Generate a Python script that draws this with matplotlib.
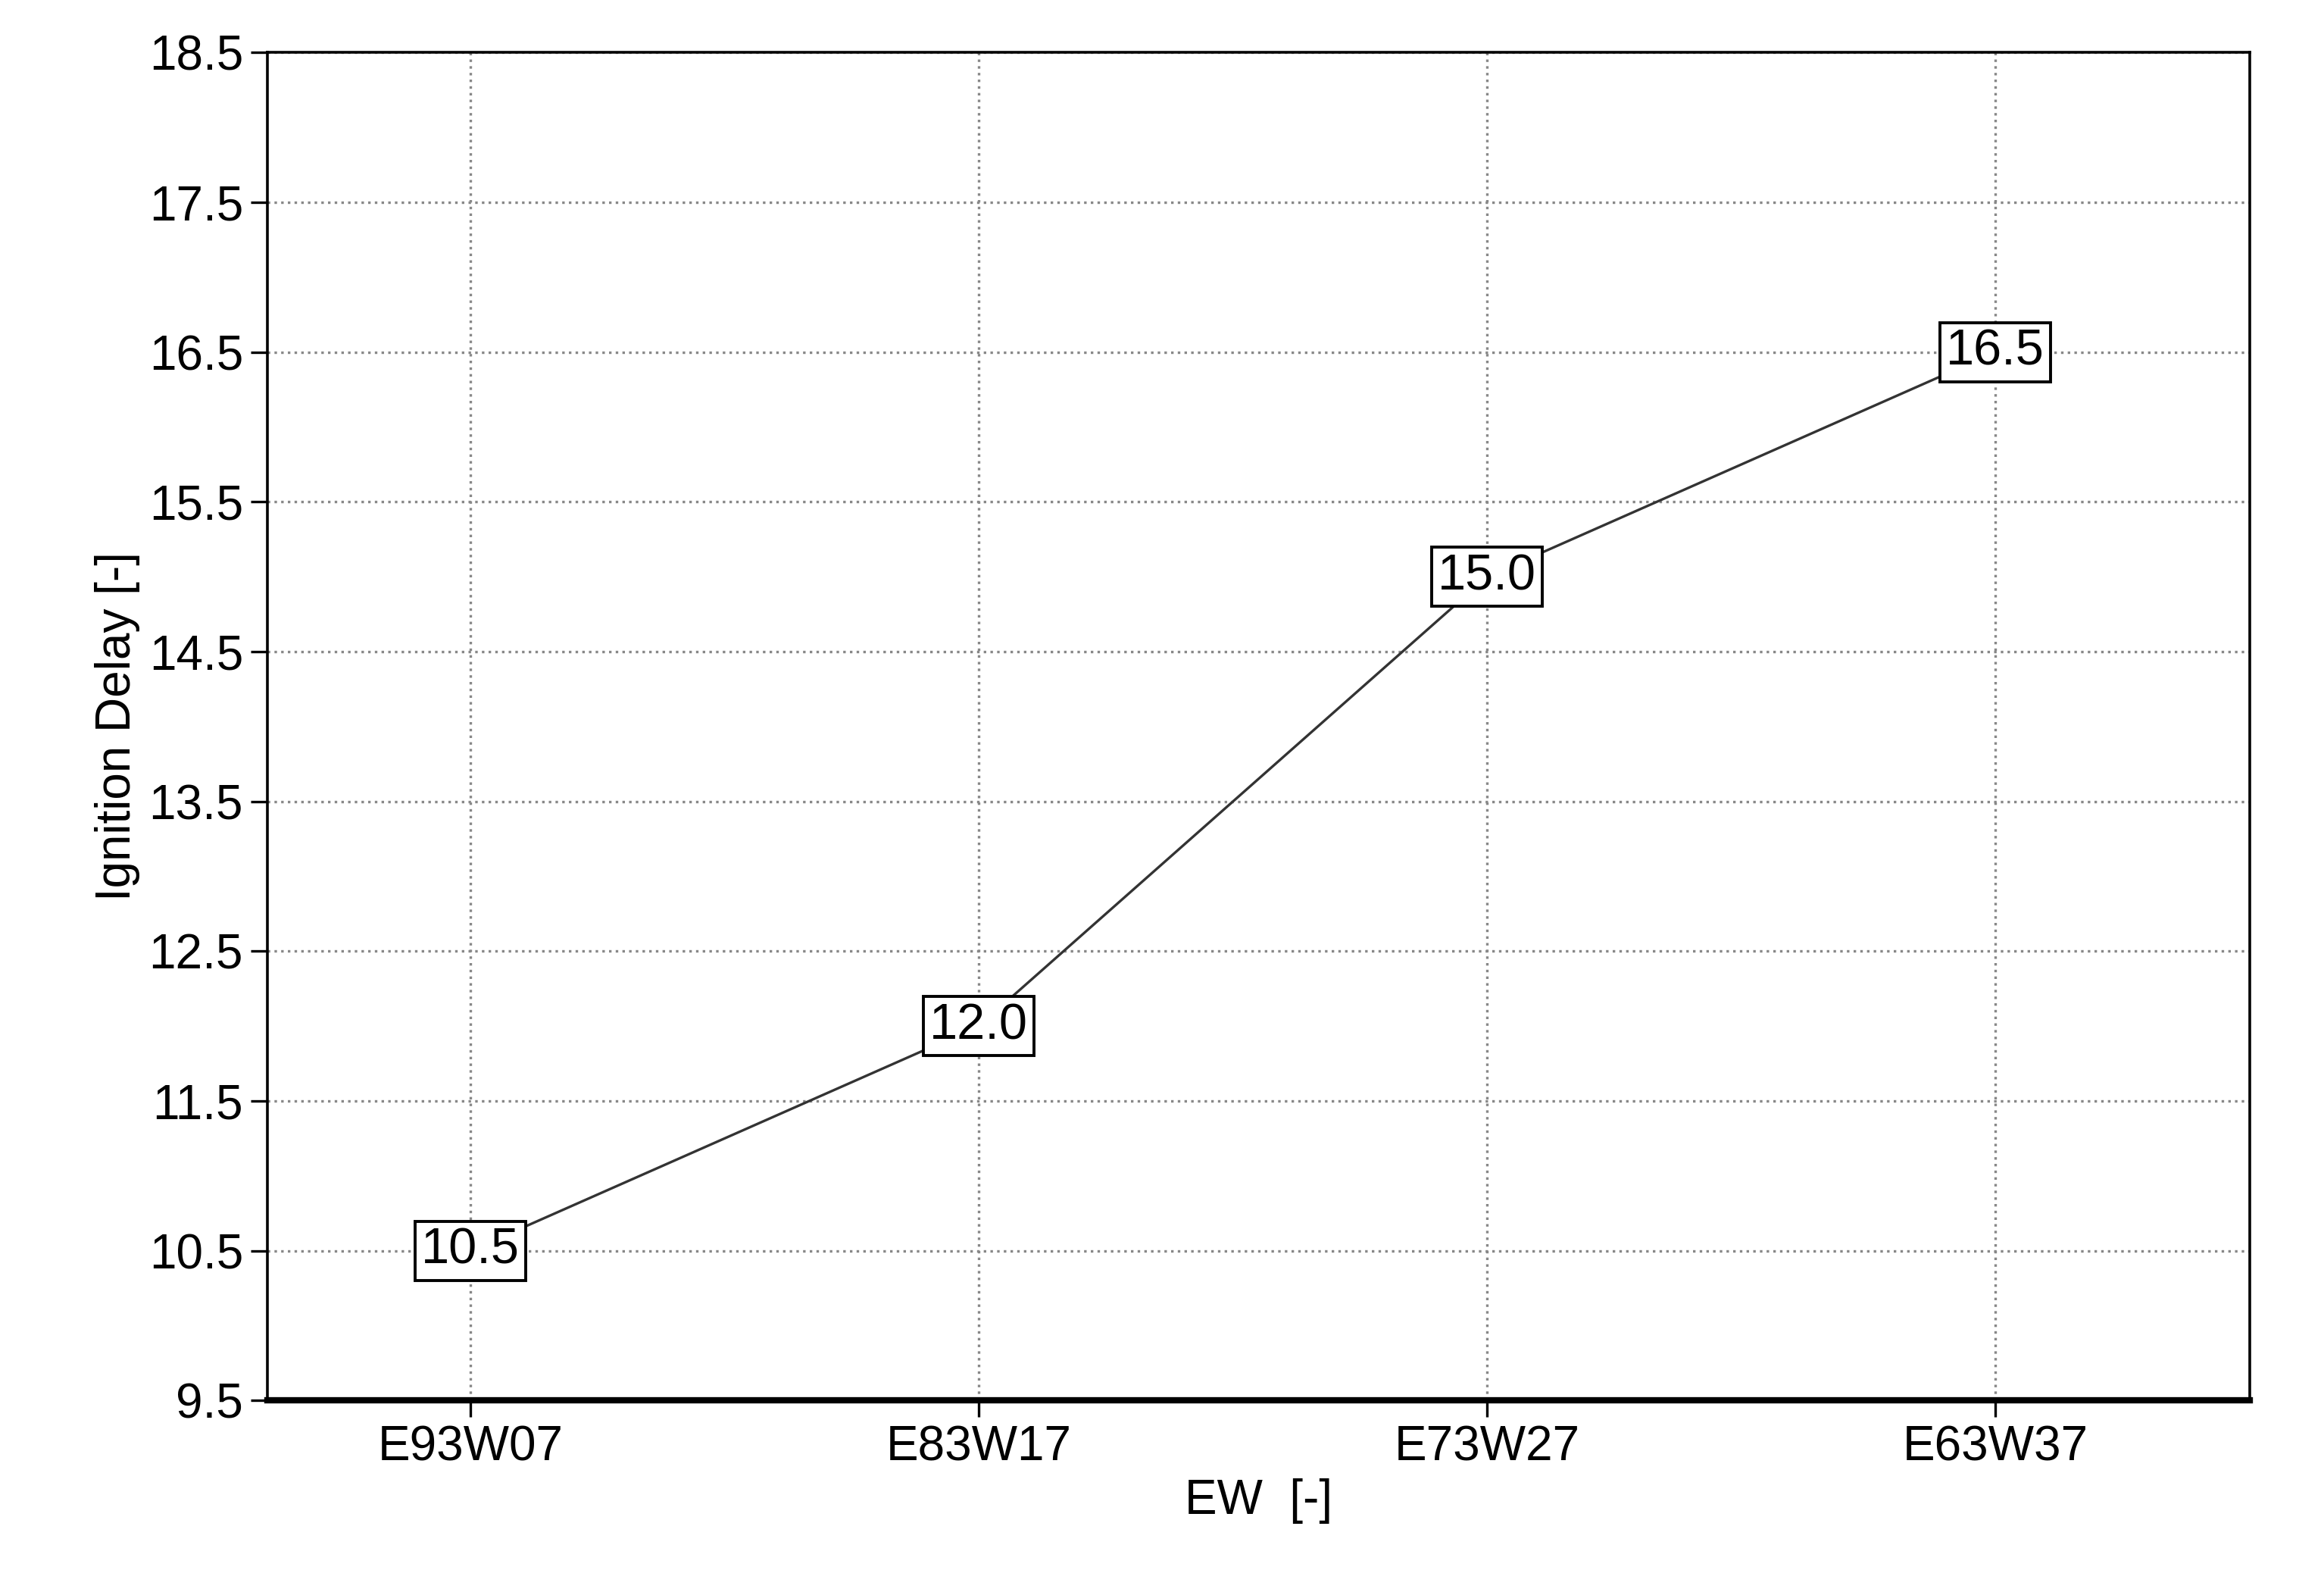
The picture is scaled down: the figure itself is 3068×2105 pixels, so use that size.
import matplotlib
matplotlib.use("Agg")
import matplotlib.pyplot as plt

categories = ["E93W07", "E83W17", "E73W27", "E63W37"]
values = [10.5, 12.0, 15.0, 16.5]
yticks = [9.5, 10.5, 11.5, 12.5, 13.5, 14.5, 15.5, 16.5, 17.5, 18.5]

plt.rcParams['font.family'] = ['Liberation Sans', 'DejaVu Sans']
fig = plt.figure(figsize=(15.34, 10.525), dpi=200)
ax = fig.add_axes([0.115, 0.122, 0.853, 0.845])
x = list(range(len(categories)))
ax.plot(x, values, color="#333333", lw=1.2, zorder=2)
for xi, v in zip(x, values):
    ax.text(xi, v, f"{v:.1f}", ha="center", va="center", fontsize=24, zorder=3,
            bbox=dict(boxstyle="square,pad=0.12", fc="white", ec="black", lw=1.4))
ax.set_xlim(-0.4, 3.5)
ax.set_ylim(9.5, 18.5)
ax.set_yticks(yticks)
ax.set_yticklabels([f"{t:.1f}" for t in yticks])
ax.set_xticks(x)
ax.set_xticklabels(categories)
ax.grid(True, linestyle=":", color="#888888", lw=1.2)
ax.tick_params(axis="both", labelsize=23, direction="out", length=8, width=1.2)
for s in ax.spines.values():
    s.set_linewidth(1.3)
ax.spines['bottom'].set_linewidth(3)
ax.set_xlabel("EW  [-]", fontsize=23)
ax.set_ylabel("Ignition Delay [-]", fontsize=23)
fig.savefig("out.png", dpi=200, facecolor="white")
